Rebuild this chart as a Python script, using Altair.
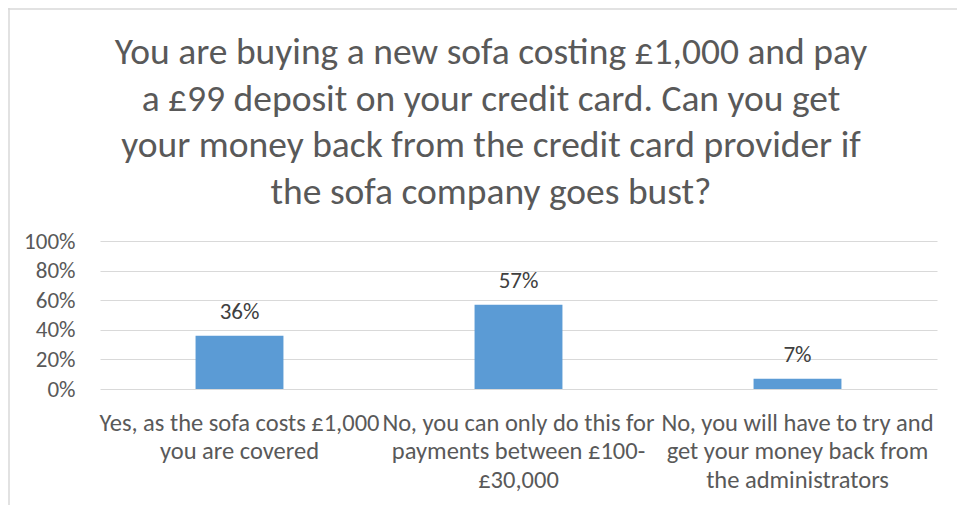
import altair as alt
import pandas as pd

categories = [
    "Yes, as the sofa costs £1,000\nyou are covered",
    "No, you can only do this for\npayments between £100-\n£30,000",
    "No, you will have to try and\nget your money back from\nthe administrators",
]
values = [0.36, 0.57, 0.07]
labels = ["36%", "57%", "7%"]
y_ticks = [0, 0.2, 0.4, 0.6, 0.8, 1.0]
title_lines = [
    "You are buying a new sofa costing £1,000 and pay",
    "a £99 deposit on your credit card. Can you get",
    "your money back from the credit card provider if",
    "the sofa company goes bust?",
]

df = pd.DataFrame({"cat": categories, "val": values, "lab": labels})
one = pd.DataFrame({"k": [0]})

FONT = "Carlito, Calibri, 'Liberation Sans Narrow', sans-serif"

x = alt.X("cat:N", sort=categories, title=None,
          scale=alt.Scale(paddingInner=0.685, paddingOuter=0.3425),
          axis=alt.Axis(labelAngle=0, labelExpr="split(datum.label, '\\n')",
                        labelFontSize=24.5, labelColor="#595959", labelFont=FONT,
                        labelLineHeight=28.5, labelPadding=22, ticks=False, domain=False,
                        grid=False, labelLimit=400, labelOverlap=False))
y = alt.Y("val:Q", title=None,
          scale=alt.Scale(domain=[0, 1], nice=False),
          axis=alt.Axis(format=".0%", values=y_ticks, tickCount=20,
                        labelFontSize=23, labelColor="#595959", labelFont=FONT,
                        labelPadding=25, ticks=False, domain=False, labelOverlap=False,
                        grid=True, gridColor="#d9d9d9", gridWidth=1))

bars = alt.Chart(df).mark_bar(color="#5b9bd5").encode(x=x, y=y)
text = alt.Chart(df).mark_text(baseline="alphabetic", dy=-17, fontSize=23,
                               color="#404040", font=FONT).encode(
    x=x, y=y, text="lab:N")

title = alt.Chart(one).mark_text(baseline="alphabetic", align="center", fontSize=37.5,
                                 lineHeight=46.5, color="#595959", font=FONT).encode(
    x=alt.value(391), y=alt.value(-177), text=alt.value(title_lines))

border_left = alt.Chart(one).mark_rule(color="#d9d9d9", strokeWidth=1.5).encode(
    x=alt.value(-91), y=alt.value(-233), y2=alt.value(270))
border_top = alt.Chart(one).mark_rule(color="#d9d9d9", strokeWidth=1.5).encode(
    x=alt.value(-92), x2=alt.value(865), y=alt.value(-232))

chart = alt.layer(bars, text, title, border_left, border_top).properties(
    width=837, height=148,
    background="white",
    autosize=alt.AutoSizeParams(type="none"),
    padding={"left": 92, "top": 233, "right": 20, "bottom": 116},
).configure_view(strokeWidth=0, stroke=None)

chart.save("out.html", embed_options={"renderer": "svg", "actions": False})
